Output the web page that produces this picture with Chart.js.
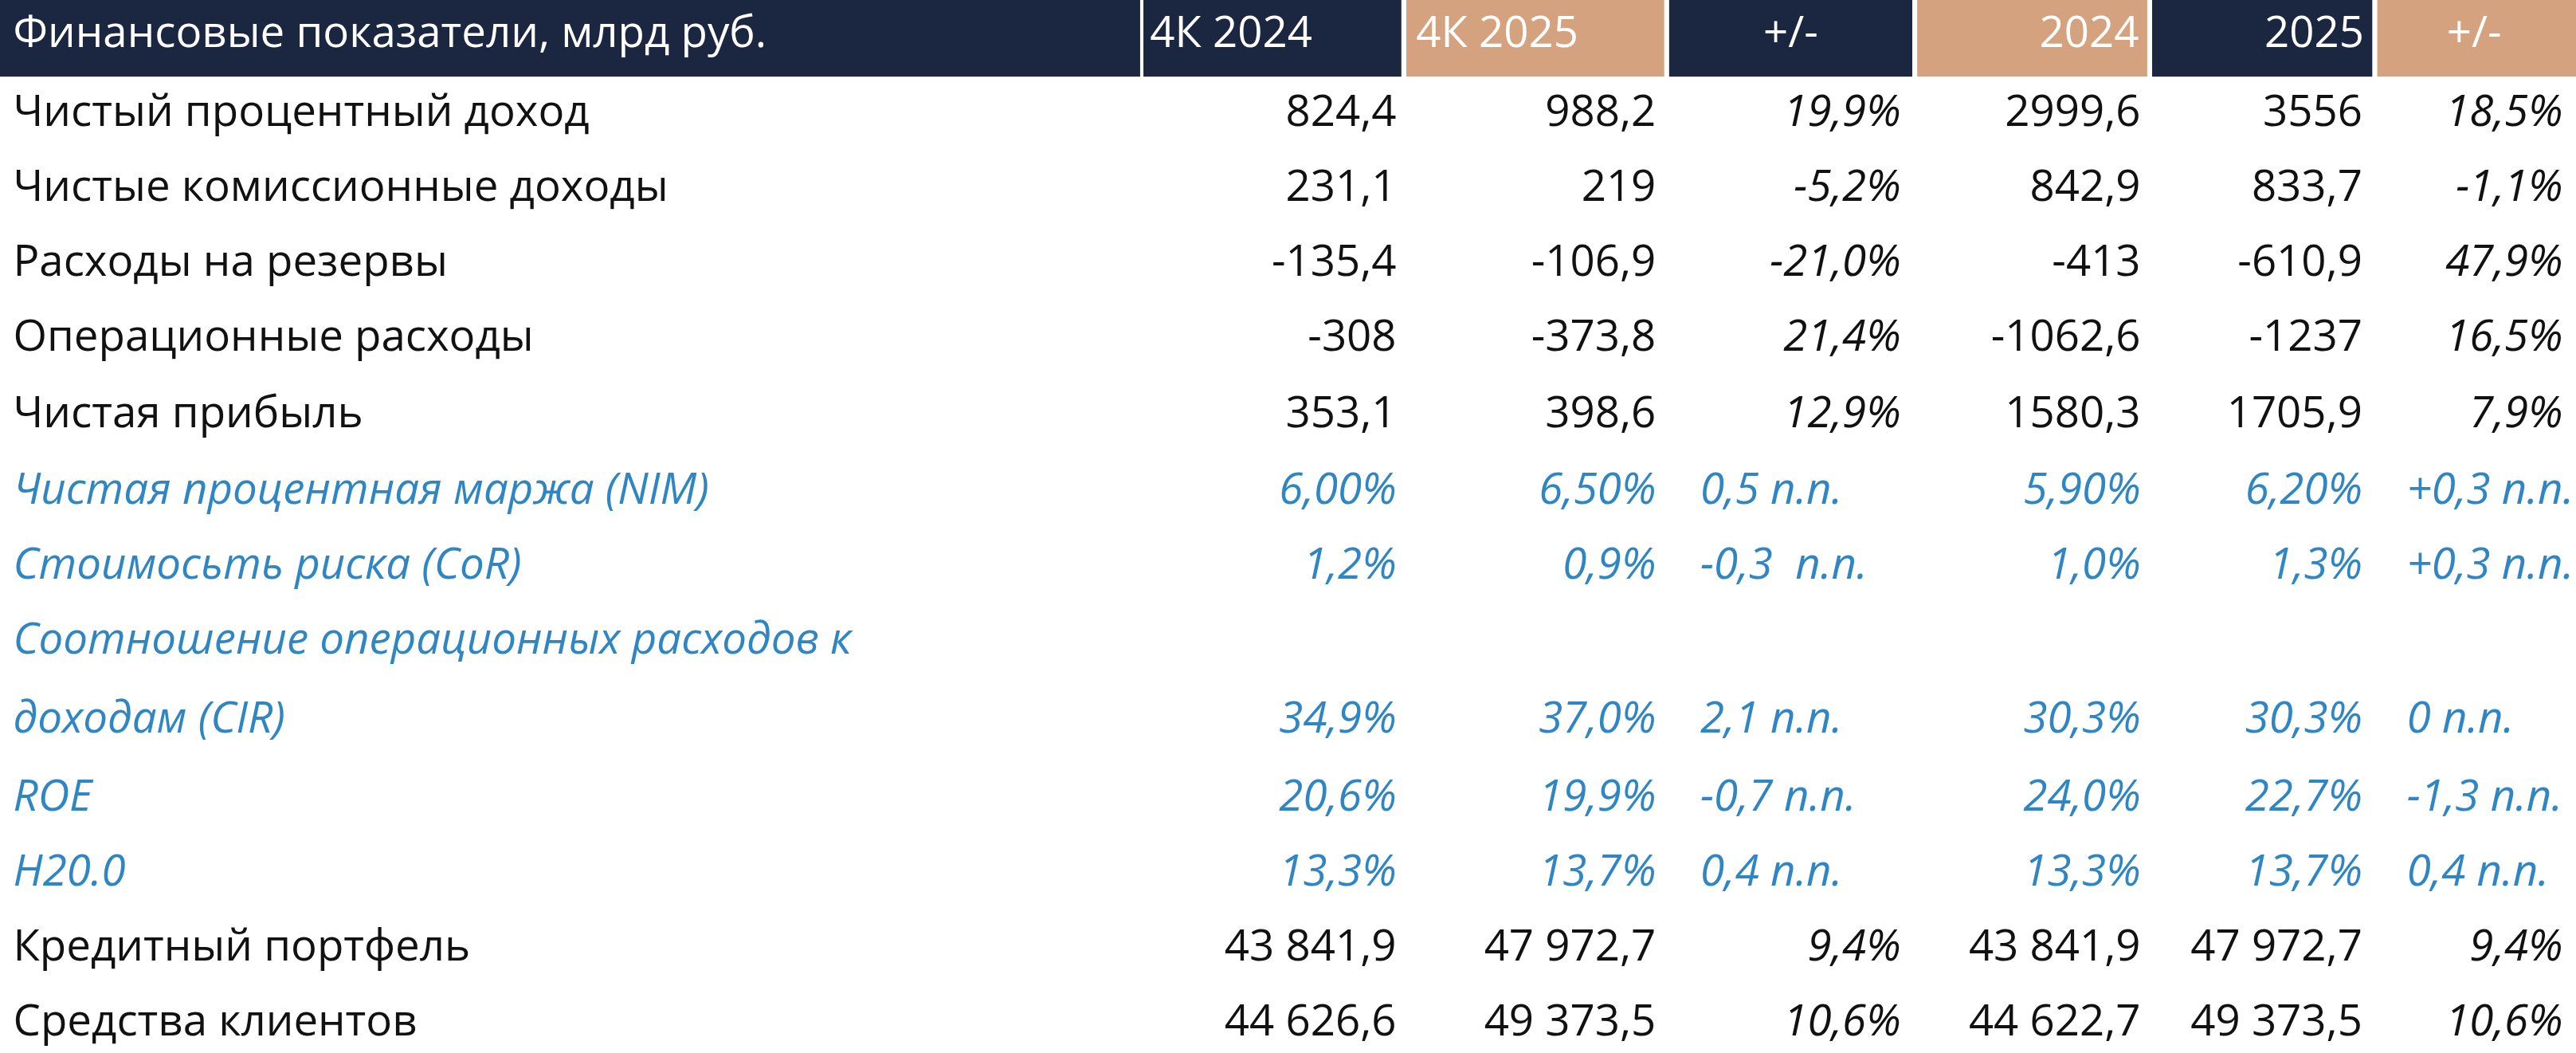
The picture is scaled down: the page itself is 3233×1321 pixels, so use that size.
<!DOCTYPE html>
<html>
<head>
<meta charset="utf-8">
<script src="https://cdn.jsdelivr.net/npm/chart.js@4.4.1/dist/chart.umd.min.js"></script>
<style>
  html, body { margin: 0; padding: 0; background: #fff; }
  #wrap { width: 3233px; height: 1321px; }
</style>
</head>
<body>
<div id="wrap"><canvas id="c"></canvas></div>
<script>
// table data
const headers = ["Финансовые показатели, млрд руб.", "4К 2024", "4К 2025", "+/-", "2024", "2025", "+/-"];
const rowLabels = [
  "Чистый процентный доход",
  "Чистые комиссионные доходы",
  "Расходы на резервы",
  "Операционные расходы",
  "Чистая прибыль",
  "Чистая процентная маржа (NIM)",
  "Стоимосьть риска (CoR)",
  "Соотношение операционных расходов к\nдоходам (CIR)",
  "ROE",
  "Н20.0",
  "Кредитный портфель",
  "Средства клиентов",
];
const q4_2024 = ["824,4", "231,1", "-135,4", "-308", "353,1", "6,00%", "1,2%", "34,9%", "20,6%", "13,3%", "43 841,9", "44 626,6"];
const q4_2025 = ["988,2", "219", "-106,9", "-373,8", "398,6", "6,50%", "0,9%", "37,0%", "19,9%", "13,7%", "47 972,7", "49 373,5"];
const qChange = ["19,9%", "-5,2%", "-21,0%", "21,4%", "12,9%", "0,5 п.п.", "-0,3  п.п.", "2,1 п.п.", "-0,7 п.п.", "0,4 п.п.", "9,4%", "10,6%"];
const y2024 = ["2999,6", "842,9", "-413", "-1062,6", "1580,3", "5,90%", "1,0%", "30,3%", "24,0%", "13,3%", "43 841,9", "44 622,7"];
const y2025 = ["3556", "833,7", "-610,9", "-1237", "1705,9", "6,20%", "1,3%", "30,3%", "22,7%", "13,7%", "47 972,7", "49 373,5"];
const yChange = ["18,5%", "-1,1%", "47,9%", "16,5%", "7,9%", "+0,3 п.п.", "+0,3 п.п.", "0 п.п.", "-1,3 п.п.", "0,4 п.п.", "9,4%", "10,6%"];
const ratioRows = [5, 6, 7, 8, 9];

// layout in a 1568 x 632 grid
const NAVY = "#1b2640", TAN = "#d4a27e", BLUE = "#2f86c2";
const colEdges = [[0, 694], [696, 853], [856, 1013], [1016, 1164], [1167, 1307], [1310, 1444], [1447, 1568]];
const headFill = [NAVY, NAVY, TAN, NAVY, TAN, NAVY, TAN];
const rowY = [68, 113, 158, 203, 249, 295, 340, 432, 479, 524, 569, 614];
const valueRight = [850, 1008, 1157, 1303, 1438, 1560];
const ppLeft = [null, null, 1035, null, null, 1465];

const tablePlugin = {
  id: "table",
  afterDraw(chart) {
    const ctx = chart.ctx, xs = chart.scales.x, ys = chart.scales.y;
    const X = v => xs.getPixelForValue(v), Y = v => ys.getPixelForValue(v);
    const fs = (X(1568) - X(0)) / 1568 * 26.5;
    const fam = '"Open Sans", "Noto Sans", sans-serif';
    ctx.save();
    ctx.textBaseline = "middle";
    // header
    colEdges.forEach((e, i) => {
      ctx.fillStyle = headFill[i];
      ctx.fillRect(X(e[0]), Y(0), X(e[1]) - X(e[0]), Y(46) - Y(0));
    });
    ctx.fillStyle = "#fff";
    ctx.font = `${fs}px ${fam}`;
    const headX = [[8, "left"], [700, "left"], [862, "left"], [1090, "center"], [1302, "right"], [1439, "right"], [1506, "center"]];
    headers.forEach((h, i) => {
      ctx.textAlign = headX[i][1];
      ctx.fillText(h, X(headX[i][0]), Y(21));
    });
    // rows
    const cols = [q4_2024, q4_2025, qChange, y2024, y2025, yChange];
    rowLabels.forEach((lab, r) => {
      const ratio = ratioRows.includes(r);
      const color = ratio ? BLUE : "#111";
      ctx.fillStyle = color;
      ctx.textAlign = "left";
      ctx.font = `${ratio ? "italic " : ""}${fs}px ${fam}`;
      const lines = lab.split("\n");
      lines.forEach((l, k) => ctx.fillText(l, X(8), Y(rowY[r] - (lines.length - 1 - k) * 47)));
      cols.forEach((col, c) => {
        const txt = col[r];
        const italic = ratio || c === 2 || c === 5;
        ctx.font = `${italic ? "italic " : ""}${fs}px ${fam}`;
        if (txt.includes("п.п.") && ppLeft[c] !== null) {
          ctx.textAlign = "left";
          ctx.fillText(txt, X(ppLeft[c]), Y(rowY[r]));
        } else {
          ctx.textAlign = "right";
          ctx.fillText(txt, X(valueRight[c]), Y(rowY[r]));
        }
      });
    });
    ctx.restore();
  },
};

new Chart(document.getElementById("c"), {
  type: "scatter",
  data: { datasets: [{ data: [] }] },
  options: {
    responsive: true,
    maintainAspectRatio: false,
    devicePixelRatio: 1,
    animation: false,
    layout: { padding: 0 },
    plugins: { legend: { display: false }, tooltip: { enabled: false } },
    scales: {
      x: { type: "linear", min: 0, max: 1568, display: false },
      y: { type: "linear", min: 0, max: 632, reverse: true, display: false },
    },
  },
  plugins: [tablePlugin],
});
</script>
</body>
</html>
